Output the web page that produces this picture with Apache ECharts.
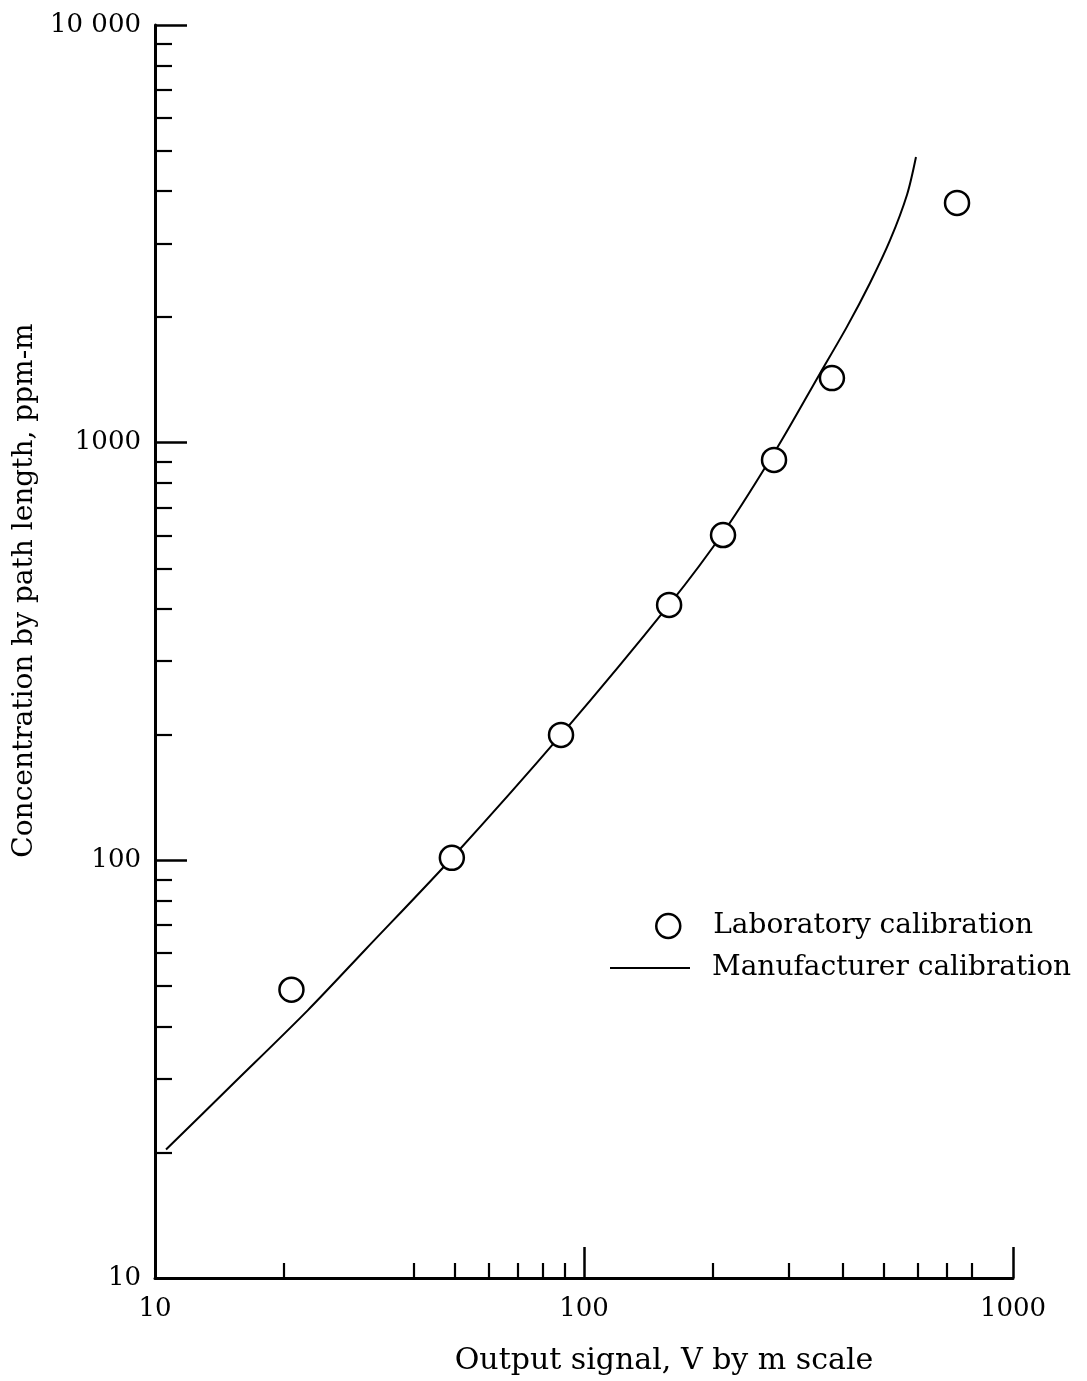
<!DOCTYPE html>
<html>
<head>
<meta charset="utf-8">
<script src="https://cdn.jsdelivr.net/npm/echarts@6/dist/echarts.min.js"></script>
<style>
html,body{margin:0;padding:0;background:#fff;}
#chart{width:1087px;height:1381px;}
</style>
</head>
<body>
<div id="chart"></div>
<script>
// Laboratory calibration points (output signal, concentration)
const labX = [20.8, 49.2, 88.4, 157.9, 210.9, 277.3, 378.4, 740.5];
const labY = [49.0, 101.4, 199.6, 408.8, 601, 909, 1428, 3749];

// Manufacturer calibration curve
const mfrX = [10.61, 14.96, 22.73, 30.87, 49.23, 88.39, 157.8, 213.2, 281.8, 354.9, 410.3, 464.2, 516.9, 566.2, 594.1];
const mfrY = [20.3, 28.7, 43.8, 61.0, 101.3, 199.6, 408.7, 618.0, 971, 1465, 1896, 2412, 3053, 3924, 4831];

// Axis ticks and labels
const xMajorTicks = [10, 100, 1000];
const xMinorTicks = [20, 40, 50, 60, 70, 80, 90, 200, 300, 400, 500, 600, 700, 800];
const xTickLabels = [10, 100, 1000];
const yMajorTicks = [10, 100, 1000, 10000];
const yMinorTicks = [20, 30, 40, 50, 60, 70, 80, 90, 200, 300, 400, 500, 600, 700, 800, 900, 2000, 3000, 4000, 5000, 6000, 7000, 8000, 9000];
const yTickLabels = [10, 100, 1000, 10000];

const labName = 'Laboratory calibration';
const mfrName = 'Manufacturer calibration';
const xTitle = 'Output signal, V by m scale';
const yTitle = 'Concentration by path length, ppm-m';

const FONT = 'DejaVu Serif';

const chart = echarts.init(document.getElementById('chart'), null, {renderer: 'canvas'});

function fmt(v) {
  return v === 10000 ? '10 000' : String(v);
}

const option = {
  backgroundColor: '#ffffff',
  animation: false,
  textStyle: {fontFamily: FONT, color: '#000'},
  grid: {left: 155, right: 74, top: 25, bottom: 103, containLabel: false, outerBoundsMode: 'none'},
  legend: [
    {
      data: [labName], orient: 'vertical', left: 655, top: 912, padding: 0,
      itemWidth: 24, itemHeight: 24, selectedMode: false, icon: 'circle',
      itemStyle: {color: '#fff', borderColor: '#000', borderWidth: 2.5},
      textStyle: {fontFamily: FONT, fontSize: 28, color: '#000', padding: [0, 0, 0, 28]}
    },
    {
      data: [mfrName], orient: 'vertical', left: 610, top: 954, padding: 0,
      itemWidth: 80, itemHeight: 2, selectedMode: false, icon: 'rect',
      itemStyle: {color: '#000', borderWidth: 0},
      textStyle: {fontFamily: FONT, fontSize: 28, color: '#000', padding: [0, 0, 0, 17]}
    }
  ],
  xAxis: [
    {
      type: 'log', logBase: 10, min: 10, max: 1000, position: 'bottom',
      axisLine: {show: true, lineStyle: {color: '#000', width: 3}},
      axisTick: {show: true, inside: true, length: 31, customValues: xMajorTicks, lineStyle: {color: '#000', width: 2.5}},
      axisLabel: {show: true, customValues: xTickLabels, fontFamily: FONT, fontSize: 26, color: '#000', margin: 18, formatter: fmt},
      splitLine: {show: false}, minorTick: {show: false}, minorSplitLine: {show: false},
      name: xTitle, nameLocation: 'middle', nameGap: 68,
      nameTextStyle: {fontFamily: FONT, fontSize: 30, color: '#000', padding: [0, 0, 0, 160]}
    },
    {
      type: 'log', logBase: 10, min: 10, max: 1000, position: 'bottom',
      axisLine: {show: false},
      axisTick: {show: true, inside: true, length: 15, customValues: xMinorTicks, lineStyle: {color: '#000', width: 2.2}},
      axisLabel: {show: false},
      splitLine: {show: false}
    }
  ],
  yAxis: [
    {
      type: 'log', logBase: 10, min: 10, max: 10000, position: 'left',
      axisLine: {show: true, lineStyle: {color: '#000', width: 3}},
      axisTick: {show: true, inside: true, length: 32, customValues: yMajorTicks, lineStyle: {color: '#000', width: 2.5}},
      axisLabel: {show: true, customValues: yTickLabels, fontFamily: FONT, fontSize: 26, color: '#000', margin: 14, formatter: fmt},
      splitLine: {show: false}, minorTick: {show: false}, minorSplitLine: {show: false},
      name: yTitle, nameLocation: 'middle', nameGap: 112,
      nameTextStyle: {fontFamily: FONT, fontSize: 28, color: '#000', padding: [0, 0, 0, 122]}
    },
    {
      type: 'log', logBase: 10, min: 10, max: 10000, position: 'left',
      axisLine: {show: false},
      axisTick: {show: true, inside: true, length: 17, customValues: yMinorTicks, lineStyle: {color: '#000', width: 2.2}},
      axisLabel: {show: false},
      splitLine: {show: false}
    }
  ],
  series: [
    {
      name: mfrName, type: 'line', xAxisIndex: 0, yAxisIndex: 0,
      data: mfrX.map((x, i) => [x, mfrY[i]]),
      smooth: 0.3, showSymbol: false, symbol: 'none',
      lineStyle: {color: '#000', width: 2},
      itemStyle: {color: '#000'},
      z: 2
    },
    {
      name: labName, type: 'scatter', xAxisIndex: 0, yAxisIndex: 0,
      data: labX.map((x, i) => [x, labY[i]]),
      symbol: 'circle', symbolSize: 24,
      itemStyle: {color: '#fff', borderColor: '#000', borderWidth: 2.5, opacity: 1},
      z: 3
    }
  ]
};

chart.setOption(option);
</script>
</body>
</html>
